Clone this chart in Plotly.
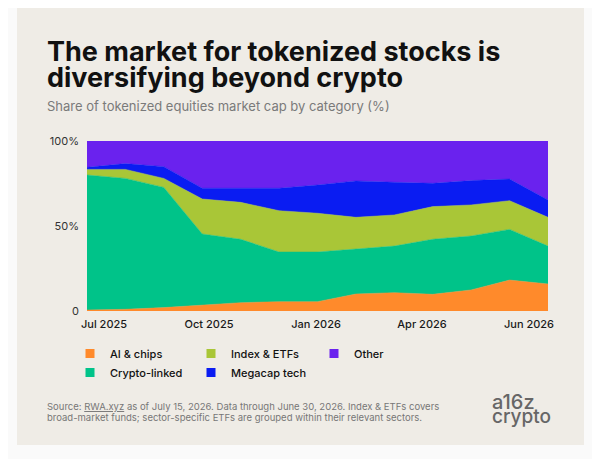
import plotly.graph_objects as go

# month-end snapshots, Jun 2025 .. Jun 2026
periods = ["2025-06-30", "2025-07-31", "2025-08-31", "2025-09-30", "2025-10-31",
           "2025-11-30", "2025-12-31", "2026-01-31", "2026-02-28", "2026-03-31",
           "2026-04-30", "2026-05-31", "2026-06-30"]

# share of tokenized equities market cap (%)
ai_chips = [0.6, 1.0, 2.0, 3.5, 4.9, 5.5, 5.5, 10.0, 10.8, 9.8, 12.4, 18.2, 15.9]
crypto_linked = [79.4, 77.0, 70.7, 41.8, 37.3, 29.2, 29.2, 26.3, 27.4, 32.4, 31.7, 29.8, 22.3]
index_etfs = [3.3, 5.3, 5.3, 20.6, 21.7, 24.3, 22.8, 18.8, 18.3, 19.2, 18.3, 16.9, 16.9]
megacap_tech = [1.2, 3.4, 6.9, 6.3, 8.3, 13.2, 16.6, 21.4, 19.2, 13.7, 14.3, 12.7, 10.2]
other = [15.5, 13.3, 15.1, 27.8, 27.8, 27.8, 25.9, 23.5, 24.3, 24.9, 23.3, 22.4, 34.7]

x_tick_labels = ["Jul 2025", "Oct 2025", "Jan 2026", "Apr 2026", "Jun 2026"]
y_tick_labels = ["0", "50%", "100%"]

# the page puts the figure 8px in from the top-left corner
OFF = 8
W, H = 600 - OFF, 459 - OFF
L, R, T, B = 87 - OFF, 548 - OFF, 141 - OFF, 311 - OFF  # plot area

def px(x):
    return (x - OFF - L) / (R - L)

def py(y):
    return (B - (y - OFF)) / (B - T)

FONT = "Inter"
CARD = "#efece6"

series = [
    ("AI & chips", ai_chips, "#ff8a2b", "legend"),
    ("Crypto-linked", crypto_linked, "#00c389", "legend"),
    ("Index & ETFs", index_etfs, "#a9c637", "legend2"),
    ("Megacap tech", megacap_tech, "#0a1cf2", "legend2"),
    ("Other", other, "#6a22ee", "legend3"),
]

x = list(range(len(periods)))

fig = go.Figure()
for name, vals, color, leg in series:
    fig.add_trace(go.Scatter(
        x=x, y=vals, name=name, stackgroup="one", mode="lines",
        line=dict(width=0.5, color=color), fillcolor=color,
        showlegend=False, hoverinfo="skip",
    ))
# square legend swatches
for name, vals, color, leg in series:
    fig.add_trace(go.Scatter(
        x=[None], y=[None], name=name, mode="markers",
        marker=dict(symbol="square", size=9, color=color),
        legend=leg,
    ))

n = len(periods) - 1
tick_pos = [(c - 87) / (548 - 87) * n for c in (104, 209, 316, 422, 529)]

leg_font = dict(family=FONT, size=11, color="#111111", weight=500)
leg_common = dict(bgcolor="rgba(0,0,0,0)", font=leg_font, xanchor="left",
                  yanchor="top", orientation="v", tracegroupgap=0,
                  itemwidth=30, traceorder="normal")

fig.update_layout(
    width=W, height=H,
    margin=dict(l=L, r=W - R, t=T, b=H - B),
    paper_bgcolor="#fafafa",
    plot_bgcolor=CARD,
    font=dict(family=FONT, color="#222222"),
    xaxis=dict(range=[0, n], showgrid=False, zeroline=False, showline=False,
               tickvals=tick_pos, ticktext=x_tick_labels, ticks="",
               ticklabelstandoff=5,
               tickfont=dict(size=11, color="#1a1a1a", weight=500),
               fixedrange=True),
    yaxis=dict(range=[0, 100], showgrid=False, zeroline=False, showline=False,
               tickvals=[0, 50, 100], ticktext=y_tick_labels, ticks="",
               ticklabelstandoff=7,
               tickfont=dict(size=11, color="#333333"), fixedrange=True),
    legend=dict(x=px(70), y=py(339), **leg_common),
    legend2=dict(x=px(191), y=py(339), **leg_common),
    legend3=dict(x=px(314), y=py(339), **leg_common),
    shapes=[dict(type="rect", xref="paper", yref="paper", layer="below",
                 x0=px(17), x1=px(584), y0=py(445), y1=py(7),
                 fillcolor=CARD, line=dict(width=0))],
)

def note(text, x0, y0, size, color, weight=400, family=FONT):
    fig.add_annotation(text=text, xref="paper", yref="paper",
                       x=px(x0), y=py(y0), xanchor="left", yanchor="middle",
                       showarrow=False, align="left",
                       font=dict(family=family, size=size, color=color, weight=weight))

note("The market for tokenized stocks is", 45, 51, 27, "#111111", 700)
note("diversifying beyond crypto", 45, 77, 27, "#111111", 700)
note("Share of tokenized equities market cap by category (%)", 45, 106, 13, "#7a7a7a")
note("Source: <u>RWA.xyz</u> as of July 15, 2026. Data through June 30, 2026. Index &amp; ETFs covers",
     45, 406, 9.5, "#777777")
note("broad-market funds; sector-specific ETFs are grouped within their relevant sectors.",
     45, 417, 9.5, "#777777")
note("a16z", 490, 402, 20, "#666666", 500)
note("crypto", 490, 416, 19, "#666666", 500)

fig.write_html("out.html")
